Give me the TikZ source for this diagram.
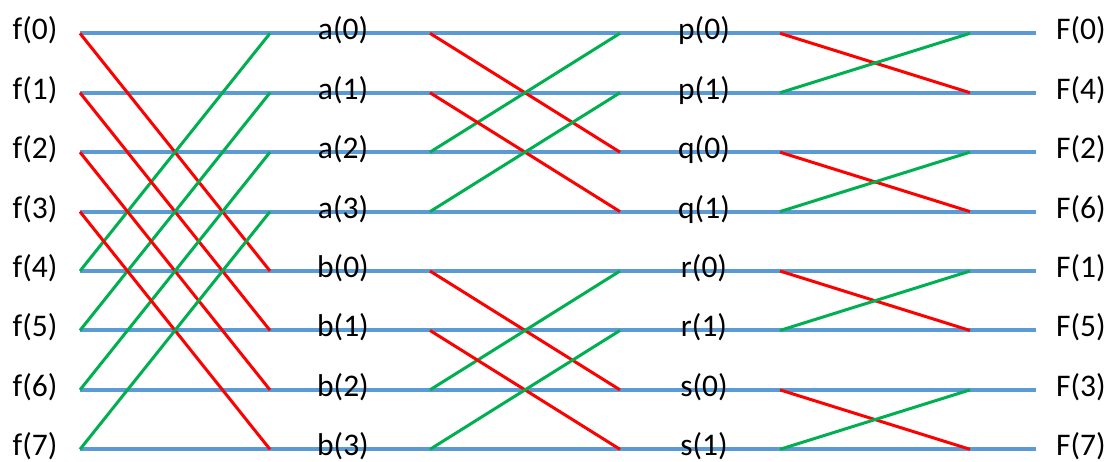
\documentclass[tikz,border=0pt]{standalone}
\usepackage{fontspec}
\setmainfont{Carlito}
\definecolor{wire}{RGB}{91,155,213}
\definecolor{bred}{RGB}{255,0,0}
\definecolor{bgreen}{RGB}{0,176,80}
\begin{document}
\begin{tikzpicture}[x=1pt,y=-1pt,
  wireline/.style={draw=wire,line width=4pt},
  redline/.style={draw=bred,line width=3pt},
  greenline/.style={draw=bgreen,line width=3pt},
  lab/.style={anchor=base,inner sep=0pt,font=\fontsize{31.5}{36}\selectfont}]
\useasboundingbox (0,0) rectangle (1113,461);
% row coordinates
\foreach \k in {0,...,7}{
  \pgfmathsetmacro{\yy}{33.3+59.43*\k}
  \coordinate (L\k) at (80,\yy);
  \coordinate (R\k) at (1036,\yy);
  \coordinate (A\k) at (270,\yy);
  \coordinate (B\k) at (430,\yy);
  \coordinate (C\k) at (620,\yy);
  \coordinate (D\k) at (780,\yy);
  \coordinate (E\k) at (970,\yy);
}
\foreach \k in {0,...,7}{ \draw[wireline] (L\k) -- (R\k); }
% stage 1
\foreach \k [evaluate=\k as \m using int(\k+4)] in {0,...,3}{
  \draw[redline] (L\k) -- (A\m);
  \draw[greenline] (L\m) -- (A\k);
}
% stage 2
\foreach \k [evaluate=\k as \m using int(\k+2)] in {0,1,4,5}{
  \draw[redline] (B\k) -- (C\m);
  \draw[greenline] (B\m) -- (C\k);
}
% stage 3
\foreach \k [evaluate=\k as \m using int(\k+1)] in {0,2,4,6}{
  \draw[redline] (D\k) -- (E\m);
  \draw[greenline] (D\m) -- (E\k);
}
% labels
\foreach \t [count=\i from 0] in {f(0),f(1),f(2),f(3),f(4),f(5),f(6),f(7)}{
  \pgfmathsetmacro{\yy}{39.8+59.43*\i}
  \node[lab] (f\i) at (35,\yy) {\t};
}
\foreach \t [count=\i from 0] in {a(0),a(1),a(2),a(3),b(0),b(1),b(2),b(3)}{
  \pgfmathsetmacro{\yy}{39.8+59.43*\i}
  \node[lab] (ab\i) at (343,\yy) {\t};
}
\foreach \t [count=\i from 0] in {p(0),p(1),q(0),q(1),r(0),r(1),s(0),s(1)}{
  \pgfmathsetmacro{\yy}{39.8+59.43*\i}
  \node[lab] (pq\i) at (704,\yy) {\t};
}
\foreach \t [count=\i from 0] in {F(0),F(4),F(2),F(6),F(1),F(5),F(3),F(7)}{
  \pgfmathsetmacro{\yy}{39.8+59.43*\i}
  \node[lab] (F\i) at (1081,\yy) {\t};
}
\end{tikzpicture}
\end{document}
